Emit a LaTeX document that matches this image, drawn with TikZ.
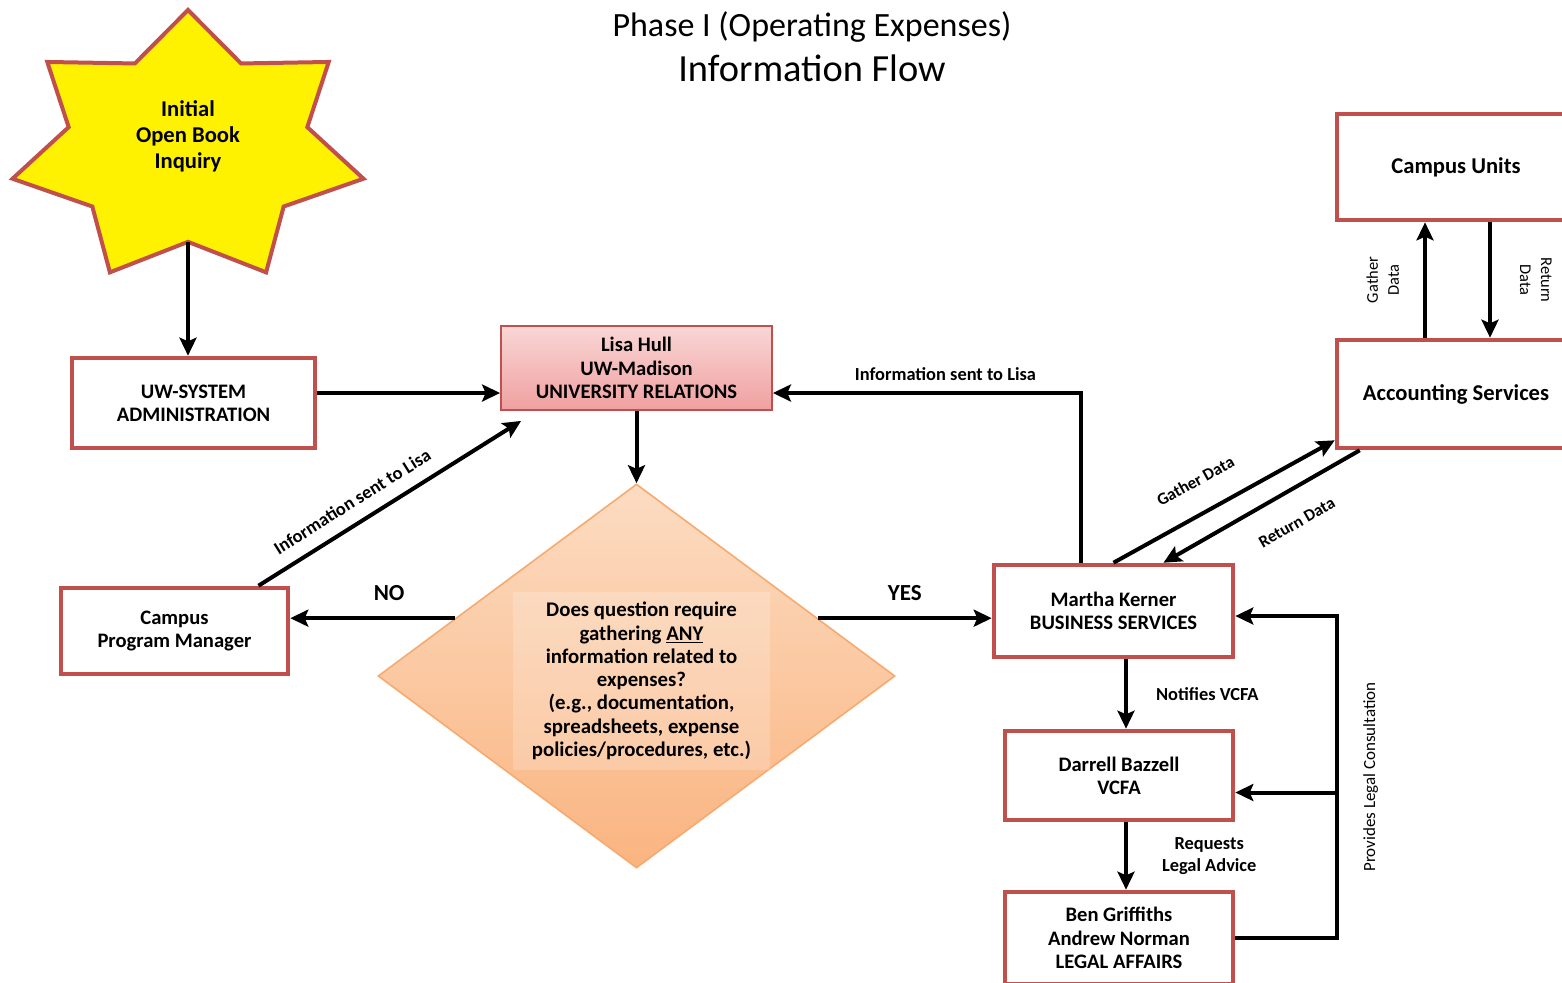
\documentclass[tikz,border=0pt]{standalone}
\usepackage{fontspec}
\setmainfont{Carlito}
\usetikzlibrary{shapes.geometric,arrows.meta,calc}
\definecolor{boxred}{RGB}{192,80,77}
\definecolor{pinktop}{RGB}{249,214,214}
\definecolor{pinkbot}{RGB}{240,160,160}
\definecolor{peachtop}{RGB}{252,220,194}
\definecolor{peachbot}{RGB}{250,180,128}
\definecolor{peachline}{RGB}{247,170,112}

\begin{document}
\begin{tikzpicture}[x=0.5pt,y=-0.5pt,
  box/.style={draw=boxred,line width=2.3pt,fill=white,align=center,inner sep=0pt,font=\fontsize{10.3}{11.6}\selectfont\bfseries},
  arr/.style={line width=2pt,-{Stealth[length=9pt,width=8.5pt,inset=1.8pt]}},
  lbl/.style={font=\fontsize{9.2}{11}\selectfont\bfseries,inner sep=1pt},
  smalllbl/.style={font=\fontsize{8.5}{10}\selectfont\bfseries,inner sep=1pt},
  vlbl/.style={font=\fontsize{8.2}{10.5}\selectfont,align=center,inner xsep=0pt}]
\useasboundingbox (0,0) rectangle (1562,982);
\clip (0,0) rectangle (1562,982);

% title
\node[font=\fontsize{17}{20.5}\selectfont] (title) at (812,27) {Phase I (Operating Expenses)};
\node[font=\fontsize{19.2}{22}\selectfont] (subtitle) at (812,68) {Information Flow};

% star
\begin{scope}[shift={(188,148)},xscale=180,yscale=138]
\draw[draw=boxred,line width=2pt,fill=yellow] (-90:1)
  \foreach \i [evaluate=\i as \r using {mod(\i,2)==0?1:0.68}] in {1,...,13} { -- ({-90+\i*360/14}:\r) } -- cycle;
\coordinate (inqb) at (90:0.68);
\end{scope}
\node[font=\fontsize{11.3}{13}\selectfont\bfseries,align=center] (inq) at (188,136) {Initial\\Open Book\\Inquiry};

% boxes
\node[box,minimum width=121.5pt,minimum height=45pt] (uws) at (193.5,403) {UW-SYSTEM\\ADMINISTRATION};
\node[box,line width=0.9pt,top color=pinktop,bottom color=pinkbot,minimum width=135.5pt,minimum height=42pt] (lisa) at (636.5,368) {Lisa Hull\\UW-Madison\\UNIVERSITY RELATIONS};
\node[diamond,draw=peachline,line width=0.8pt,top color=peachtop,bottom color=peachbot,minimum width=258.5pt,minimum height=192pt,inner sep=0pt] (dia) at (636.5,676) {};
\node[fill=white,fill opacity=0.2,text opacity=1,align=center,inner sep=0pt,minimum width=128.5pt,minimum height=89pt,font=\fontsize{10.4}{11.65}\selectfont\bfseries] (quest) at (641.5,681)
  {Does question require\\gathering \underline{ANY}\\information related to\\expenses?\\(e.g., documentation,\\spreadsheets, expense\\policies/procedures, etc.)};
\node[box,minimum width=113.5pt,minimum height=43pt] (cpm) at (174.5,631) {Campus\\Program Manager};
\node[box,minimum width=119.5pt,minimum height=46pt] (mk) at (1113.5,611) {Martha Kerner\\BUSINESS SERVICES};
\node[box,minimum width=114pt,minimum height=44.5pt] (db) at (1119,775.5) {Darrell Bazzell\\VCFA};
\node[box,minimum width=114pt,minimum height=46pt] (la) at (1119,938) {Ben Griffiths\\Andrew Norman\\LEGAL AFFAIRS};
\node[box,minimum width=119pt,minimum height=54pt,font=\fontsize{11.3}{12.6}\selectfont\bfseries] (acc) at (1456,394) {Accounting Services};
\node[box,minimum width=119pt,minimum height=53pt,font=\fontsize{11.3}{12.6}\selectfont\bfseries] (cu) at (1456,167) {Campus Units};

% connectors
\coordinate (lw) at ([yshift=-12.5pt]lisa.west);
\coordinate (le) at ([yshift=-12.5pt]lisa.east);
\coordinate (dno) at ($(dia.west)!0.3!(dia.north)$);
\coordinate (dyes) at ($(dia.east)!0.3!(dia.north)$);
\draw[arr] (inqb) -- (inqb |- uws.north);
\draw[arr] (uws.east |- lw) -- (lw);
\draw[arr] (lisa.south) -- (dia.north);
\draw[arr] (dno) -- node[lbl,above,inner ysep=8pt,font=\fontsize{11.5}{12}\selectfont\bfseries,pos=0.4] {NO} (dno -| cpm.east);
\draw[arr] (dyes) -- node[lbl,above,inner ysep=8pt,font=\fontsize{11.5}{12}\selectfont\bfseries] {YES} (dyes -| mk.west);
\draw[arr] ([xshift=42pt]cpm.north) -- node[lbl,sloped,above,pos=0.4,inner ysep=6.5pt] {Information sent to Lisa} ([xshift=10.5pt,yshift=-5pt]lisa.south west);
\draw[arr] ([xshift=-16.25pt]mk.north) |- node[lbl,pos=0.72,above,inner ysep=5pt] {Information sent to Lisa} (le);
\draw[arr] (mk.north) -- node[smalllbl,sloped,above,pos=0.44,inner ysep=12pt] {Gather Data} ([yshift=5pt]acc.south west);
\draw[arr] ([xshift=12.5pt]acc.south west) -- node[smalllbl,sloped,below,pos=0.4,inner ysep=12pt] {Return Data} ([xshift=25pt]mk.north);
\draw[arr] ([xshift=-15.5pt]acc.north) -- node[vlbl,midway,rotate=90,anchor=south,inner ysep=12pt] {Gather\\Data} ([xshift=-15.5pt]cu.south);
\draw[arr] ([xshift=17pt]cu.south) -- node[vlbl,midway,rotate=-90,anchor=south,inner ysep=14pt] {Return\\Data} ([xshift=17pt]acc.north);
\draw[arr] ([xshift=6.25pt]mk.south) -- node[lbl,right,xshift=13pt] {Notifies VCFA} ([xshift=6.25pt]mk.south |- db.north);
\draw[arr] ([xshift=3.5pt]db.south) -- node[lbl,right,xshift=16pt,align=center] {Requests\\Legal Advice} ([xshift=3.5pt]db.south |- la.north);
\coordinate (fb) at ([xshift=51pt]la.east);
\coordinate (dbin) at ([yshift=-8.5pt]db.east);
\draw[arr] (la.east) -- (fb) |- node[pos=0.25,rotate=90,anchor=north,inner ysep=12pt,font=\fontsize{8.5}{10}\selectfont] {Provides Legal Consultation} ([yshift=-2.5pt]mk.east);
\draw[arr] (fb |- dbin) -- (dbin);
\end{tikzpicture}
\end{document}
